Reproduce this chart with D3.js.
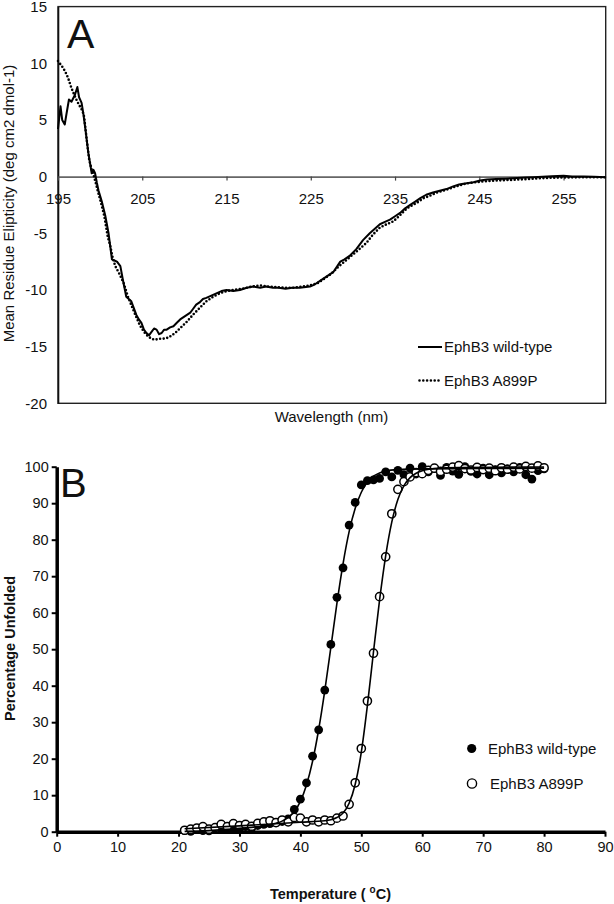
<!DOCTYPE html>
<html><head><meta charset="utf-8">
<script src="https://cdn.jsdelivr.net/npm/d3@7/dist/d3.min.js"></script>
<style>
html,body{margin:0;padding:0;background:#fff;}
svg{display:block;font-family:"Liberation Sans",Arial,sans-serif;}
</style></head>
<body>
<svg id="chart" width="614" height="904"></svg>
<script>
// ---------- Panel A: CD spectra ----------
const cdXTicks = [195, 205, 215, 225, 235, 245, 255];
const cdYTicks = [-20, -15, -10, -5, 0, 5, 10, 15];
const cdSeriesNames = ["EphB3 wild-type", "EphB3 A899P"];
const cdWildType = [
 [195,4.2],[195.3,6.2],[195.5,5.0],[195.8,4.6],[196.0,5.5],[196.3,6.8],[196.6,6.6],[197.0,7.2],[197.3,7.9],[197.5,7.0],
 [197.8,6.5],[198.0,5.6],[198.3,3.9],[198.6,2.1],[199.0,0.3],[199.2,0.6],[199.4,0.3],[199.6,-0.5],[199.8,-1.2],[200.2,-2.2],
 [200.6,-3.4],[201.0,-5.0],[201.4,-7.3],[201.7,-7.4],[202.0,-7.5],[202.4,-7.9],[202.7,-9.1],[203.1,-10.6],[203.4,-10.8],[203.7,-11.0],
 [204.0,-11.6],[204.3,-12.2],[204.6,-12.6],[204.9,-12.9],[205.2,-13.5],[205.5,-13.8],[205.8,-14.0],[206.1,-13.7],[206.4,-13.4],[206.7,-13.5],
 [207.0,-13.9],[207.3,-13.8],[207.6,-13.5],[207.9,-13.5],[208.3,-13.3],[208.7,-13.2],[209.1,-12.9],[209.5,-12.6],[209.9,-12.4],[210.3,-12.2],
 [210.7,-12.0],[211.0,-11.7],[211.4,-11.3],[211.8,-11.1],[212.2,-10.8],[212.6,-10.7],[213.2,-10.5],[213.8,-10.3],[214.4,-10.1],[215.0,-10.0],
 [215.8,-10.1],[216.6,-10.0],[217.4,-9.8],[218.2,-9.7],[219.0,-9.8],[219.7,-9.7],[220.5,-9.8],[221.2,-9.8],[222.0,-9.9],[222.8,-9.8],
 [223.7,-9.8],[224.9,-9.7],[225.5,-9.5],[226.1,-9.2],[226.9,-8.8],[227.7,-8.4],[228.5,-7.5],[229.0,-7.3],[229.6,-7.0],[230.4,-6.4],
 [231.2,-5.6],[232.0,-5.0],[232.6,-4.6],[233.2,-4.2],[233.8,-4.0],[234.4,-3.8],[235.0,-3.5],[235.6,-3.2],[236.2,-2.8],[236.8,-2.5],
 [237.4,-2.2],[238.0,-1.9],[238.7,-1.6],[239.5,-1.4],[240.3,-1.25],[241.1,-1.1],[241.9,-0.86],[242.6,-0.7],[243.3,-0.6],[244.3,-0.5],
 [245.1,-0.35],[245.9,-0.26],[247.0,-0.22],[248.2,-0.18],[249.5,-0.12],[250.5,-0.08],[251.4,-0.06],[252.5,-0.02],[253.6,0.03],[255.0,0.08],
 [256.0,0.02],[257.4,0.0],[258.6,-0.02],[260,-0.05]
];
const cdA899P = [
 [195,10.2],[195.3,9.9],[195.6,9.6],[195.9,9.2],[196.2,8.7],[196.6,7.8],[197.0,7.1],[197.3,6.6],[197.6,6.2],[197.9,5.8],
 [198.1,5.3],[198.4,3.3],[198.7,1.5],[199.0,0.6],[199.2,0.2],[199.5,-0.6],[199.7,-1.2],[200.1,-2.3],[200.5,-3.5],[200.9,-5.3],
 [201.2,-6.1],[201.5,-7.2],[201.8,-7.9],[202.3,-8.6],[202.8,-9.4],[203.3,-10.6],[203.9,-11.7],[204.3,-12.4],[204.7,-13.1],[205.2,-13.7],
 [205.7,-14.1],[206.1,-14.3],[206.5,-14.4],[207.0,-14.3],[207.5,-14.3],[208.1,-14.2],[208.5,-14.0],[208.9,-13.8],[209.6,-13.3],[210.3,-12.8],
 [211.0,-12.2],[211.8,-11.6],[212.6,-11.0],[213.4,-10.6],[214.2,-10.3],[215.0,-10.1],[215.8,-10.0],[216.8,-9.9],[218.0,-9.7],[219.0,-9.6],
 [220.0,-9.7],[221.0,-9.75],[222.0,-9.8],[223.0,-9.8],[224.0,-9.7],[224.9,-9.6],[225.8,-9.4],[226.6,-9.0],[227.4,-8.6],[228.2,-8.0],
 [229.0,-7.5],[229.8,-7.0],[230.6,-6.5],[231.6,-5.85],[232.4,-5.1],[233.2,-4.5],[234.0,-4.2],[234.8,-3.95],[235.6,-3.4],[236.4,-2.8],
 [237.0,-2.55],[237.6,-2.3],[238.4,-1.9],[239.1,-1.7],[240.0,-1.4],[241.1,-1.15],[242.3,-0.85],[243.5,-0.6],[244.7,-0.48],[245.9,-0.4],
 [247.5,-0.33],[249.4,-0.27],[251.4,-0.18],[253.4,-0.1],[255.4,-0.07],[257.3,-0.06],[260,-0.06]
];

// ---------- Panel B: thermal melts ----------
const meltXTicks = [0, 10, 20, 30, 40, 50, 60, 70, 80, 90];
const meltYTicks = [0, 10, 20, 30, 40, 50, 60, 70, 80, 90, 100];
const meltSeriesNames = ["EphB3 wild-type", "EphB3 A899P"];
const meltWildType = [
 [21,0.3],[22,0.1],[23,0.6],[24,0.3],[25,0.2],[26,0.7],[27,1.0],[28,0.6],[29,1.2],[30,0.8],
 [31,1.4],[32,1.0],[33,1.7],[34,2.0],[35,2.2],[36,2.5],[37,2.8],[38,3.5],[39,6.1],[40,8.9],
 [41,13.4],[42,20.7],[43,27.9],[44,38.8],[45,51.3],[46,64.2],[47,72.3],[48,84.0],[49,90.2],[50,95.0],
 [51,96.2],[52,96.4],[53,96.8],[54,98.6],[55,97.2],[56,99.0],[57,97.8],[58,99.6],[59,98.0],[60,100.0],
 [61,98.6],[62,99.5],[63,97.6],[64,99.8],[65,98.8],[66,97.9],[67,100.0],[68,98.7],[69,98.0],[70,99.6],
 [71,97.8],[72,99.2],[73,98.3],[74,99.4],[75,98.6],[76,99.8],[77,97.8],[78,96.6],[79,98.9],[80,99.4]
];
const meltA899P = [
 [21,0.4],[22,0.7],[23,1.0],[24,1.4],[25,0.7],[26,1.1],[27,2.0],[28,1.4],[29,2.2],[30,1.7],
 [31,2.0],[32,1.5],[33,2.3],[34,2.7],[35,3.0],[36,2.5],[37,3.2],[38,2.7],[39,3.9],[40,3.7],
 [41,2.7],[42,3.2],[43,2.7],[44,3.2],[45,3.0],[46,3.7],[47,4.3],[48,7.5],[49,13.4],[50,22.8],
 [51,35.8],[52,48.9],[53,64.4],[54,75.3],[55,87.1],[56,93.8],[57,95.9],[58,97.2],[59,98.4],[60,98.1],
 [61,99.0],[62,99.6],[63,98.7],[64,99.3],[65,99.9],[66,100.3],[67,99.5],[68,99.1],[69,99.8],[70,99.2],
 [71,99.6],[72,98.9],[73,99.7],[74,99.3],[75,99.9],[76,99.4],[77,100.1],[78,99.6],[79,100.2],[80,99.7]
];
const fitWildType = [
 [21,0.1],[25,0.3],[30,0.9],[34,1.6],[36,2.3],[37,2.9],[38,3.9],[39,5.5],[40,8.3],[41,12.8],
 [42,19.3],[43,28],[44,38.6],[45,50.5],[46,62.6],[47,73.4],[48,82.2],[49,88.6],[50,93],[51,95.8],
 [52,97.4],[53,98.3],[54,98.8],[56,99.2],[60,99.4],[70,99.5],[80,99.6]
];
const fitA899P = [
 [21,0.8],[30,1.6],[40,2.6],[44,3.0],[45,3.3],[46,3.9],[47,5.1],[48,7.8],[49,13.0],[50,21.8],
 [51,34.6],[52,49.3],[53,63.5],[54,75.6],[55,84.8],[56,91.0],[57,94.8],[58,97.0],[59,98.2],[60,98.9],
 [62,99.5],[66,99.8],[80,99.9]
];

const svg = d3.select("#chart");

// ===== Panel A =====
const A = {l:58, r:605.7, t:6.6, b:403.3};
const xA = d3.scaleLinear().domain([195, 260]).range([A.l, A.r]);
const yA = d3.scaleLinear().domain([-20, 15]).range([A.b, A.t]);
const gA = svg.append("g");

// frame
gA.append("rect").attr("x", A.l).attr("y", A.t).attr("width", A.r - A.l).attr("height", A.b - A.t)
  .attr("fill", "none").attr("stroke", "#222").attr("stroke-width", 1.4);

// y axis
const yAxisA = gA.append("g").attr("transform", `translate(${A.l},0)`)
  .call(d3.axisLeft(yA).tickValues(cdYTicks).tickSize(0).tickPadding(11).tickFormat(d => String(d)));
yAxisA.select(".domain").attr("stroke", "#111").attr("stroke-width", 1.6);
yAxisA.selectAll("text").attr("font-size", 15).attr("fill", "#111").attr("font-family", "Liberation Sans, Arial, sans-serif");

// x axis on zero line
const xAxisA = gA.append("g").attr("transform", `translate(0,${yA(0)})`)
  .call(d3.axisBottom(xA).tickValues(cdXTicks).tickSize(4).tickSizeOuter(0).tickPadding(13));
xAxisA.select(".domain").attr("stroke", "#666").attr("stroke-width", 1.6);
xAxisA.selectAll(".tick line").attr("stroke", "#444").attr("stroke-width", 1.2);
xAxisA.selectAll("text").attr("font-size", 15).attr("fill", "#111").attr("font-family", "Liberation Sans, Arial, sans-serif");

// lines
const lineA = d3.line().x(d => xA(d[0])).y(d => yA(d[1]));
gA.append("path").datum(cdA899P).attr("d", lineA).attr("fill", "none").attr("stroke", "#000")
  .attr("stroke-width", 2.6).attr("stroke-linecap", "round").attr("stroke-dasharray", "0,3.6");
gA.append("path").datum(cdWildType).attr("d", lineA).attr("fill", "none").attr("stroke", "#000")
  .attr("stroke-width", 2).attr("stroke-linejoin", "round");

// labels
gA.append("text").attr("x", 67).attr("y", 47.7).attr("font-size", 41).attr("fill", "#111").text("A");
gA.append("text").attr("transform", `translate(14,203.5) rotate(-90)`).attr("text-anchor", "middle")
  .attr("font-size", 15).attr("fill", "#111").text("Mean Residue Elipticity (deg cm2 dmol-1)");
gA.append("text").attr("x", 331.5).attr("y", 422).attr("text-anchor", "middle")
  .attr("font-size", 15).attr("fill", "#111").text("Wavelength (nm)");

// legend A
const legA = gA.append("g");
legA.append("line").attr("x1", 418).attr("x2", 442).attr("y1", 347).attr("y2", 347)
  .attr("stroke", "#000").attr("stroke-width", 2);
legA.append("line").attr("x1", 419.5).attr("x2", 442).attr("y1", 380.5).attr("y2", 380.5)
  .attr("stroke", "#000").attr("stroke-width", 2.6).attr("stroke-linecap", "round").attr("stroke-dasharray", "0,3.8");
legA.append("text").attr("x", 444).attr("y", 347).attr("dy", "0.35em").attr("font-size", 15).attr("fill", "#111").text(cdSeriesNames[0]);
legA.append("text").attr("x", 444).attr("y", 381).attr("dy", "0.35em").attr("font-size", 15).attr("fill", "#111").text(cdSeriesNames[1]);

// ===== Panel B =====
const B = {l:56.7, r:605, t:466.7, b:831.7};
const xB = d3.scaleLinear().domain([0, 90]).range([B.l, B.r]);
const yB = d3.scaleLinear().domain([0, 100]).range([B.b, B.t]);
const gB = svg.append("g");

const yAxisB = gB.append("g").attr("transform", `translate(${B.l},0)`)
  .call(d3.axisLeft(yB).tickValues(meltYTicks).tickSize(5).tickSizeOuter(0).tickPadding(3));
const xAxisB = gB.append("g").attr("transform", `translate(0,${B.b})`)
  .call(d3.axisBottom(xB).tickValues(meltXTicks).tickSize(5).tickSizeOuter(0).tickPadding(5.5));
[yAxisB, xAxisB].forEach(ax => {
  ax.select(".domain").attr("stroke", "#000").attr("stroke-width", 3.5);
  ax.selectAll(".tick line").attr("stroke", "#000").attr("stroke-width", 2);
  ax.selectAll("text").attr("font-size", 14.5).attr("fill", "#111").attr("font-family", "Liberation Sans, Arial, sans-serif");
});

// points
gB.append("g").selectAll("circle").data(meltWildType).join("circle")
  .attr("cx", d => xB(d[0])).attr("cy", d => yB(d[1])).attr("r", 4.4).attr("fill", "#000");
gB.append("g").selectAll("circle").data(meltA899P).join("circle")
  .attr("cx", d => xB(d[0])).attr("cy", d => yB(d[1])).attr("r", 4.1).attr("fill", "#fff")
  .attr("stroke", "#000").attr("stroke-width", 1.5);

// fits
const lineB = d3.line().x(d => xB(d[0])).y(d => yB(d[1])).curve(d3.curveMonotoneX);
[fitWildType, fitA899P].forEach(f => {
  gB.append("path").datum(f).attr("d", lineB).attr("fill", "none").attr("stroke", "#000").attr("stroke-width", 1.6);
});

// labels
gB.append("text").attr("x", 60).attr("y", 496.7).attr("font-size", 40).attr("fill", "#111").text("B");
gB.append("text").attr("transform", `translate(15,648.5) rotate(-90)`).attr("text-anchor", "middle")
  .attr("font-size", 14.5).attr("font-weight", "bold").attr("fill", "#111").text("Percentage Unfolded");
const xt = gB.append("text").attr("x", 330.5).attr("y", 899).attr("text-anchor", "middle")
  .attr("font-size", 14.5).attr("font-weight", "bold").attr("fill", "#111");
xt.append("tspan").text("Temperature ( ");
xt.append("tspan").attr("font-size", 10).attr("dy", -6).text("o");
xt.append("tspan").attr("dy", 6).text("C)");

// legend B
const legB = gB.append("g");
legB.append("circle").attr("cx", 471.7).attr("cy", 748.5).attr("r", 4.6).attr("fill", "#000");
legB.append("circle").attr("cx", 472).attr("cy", 783.5).attr("r", 4.6).attr("fill", "#fff").attr("stroke", "#000").attr("stroke-width", 1.4);
legB.append("text").attr("x", 488).attr("y", 748.5).attr("dy", "0.35em").attr("font-size", 15).attr("fill", "#111").text(meltSeriesNames[0]);
legB.append("text").attr("x", 490).attr("y", 784).attr("dy", "0.35em").attr("font-size", 15).attr("fill", "#111").text(meltSeriesNames[1]);
</script>
</body></html>
